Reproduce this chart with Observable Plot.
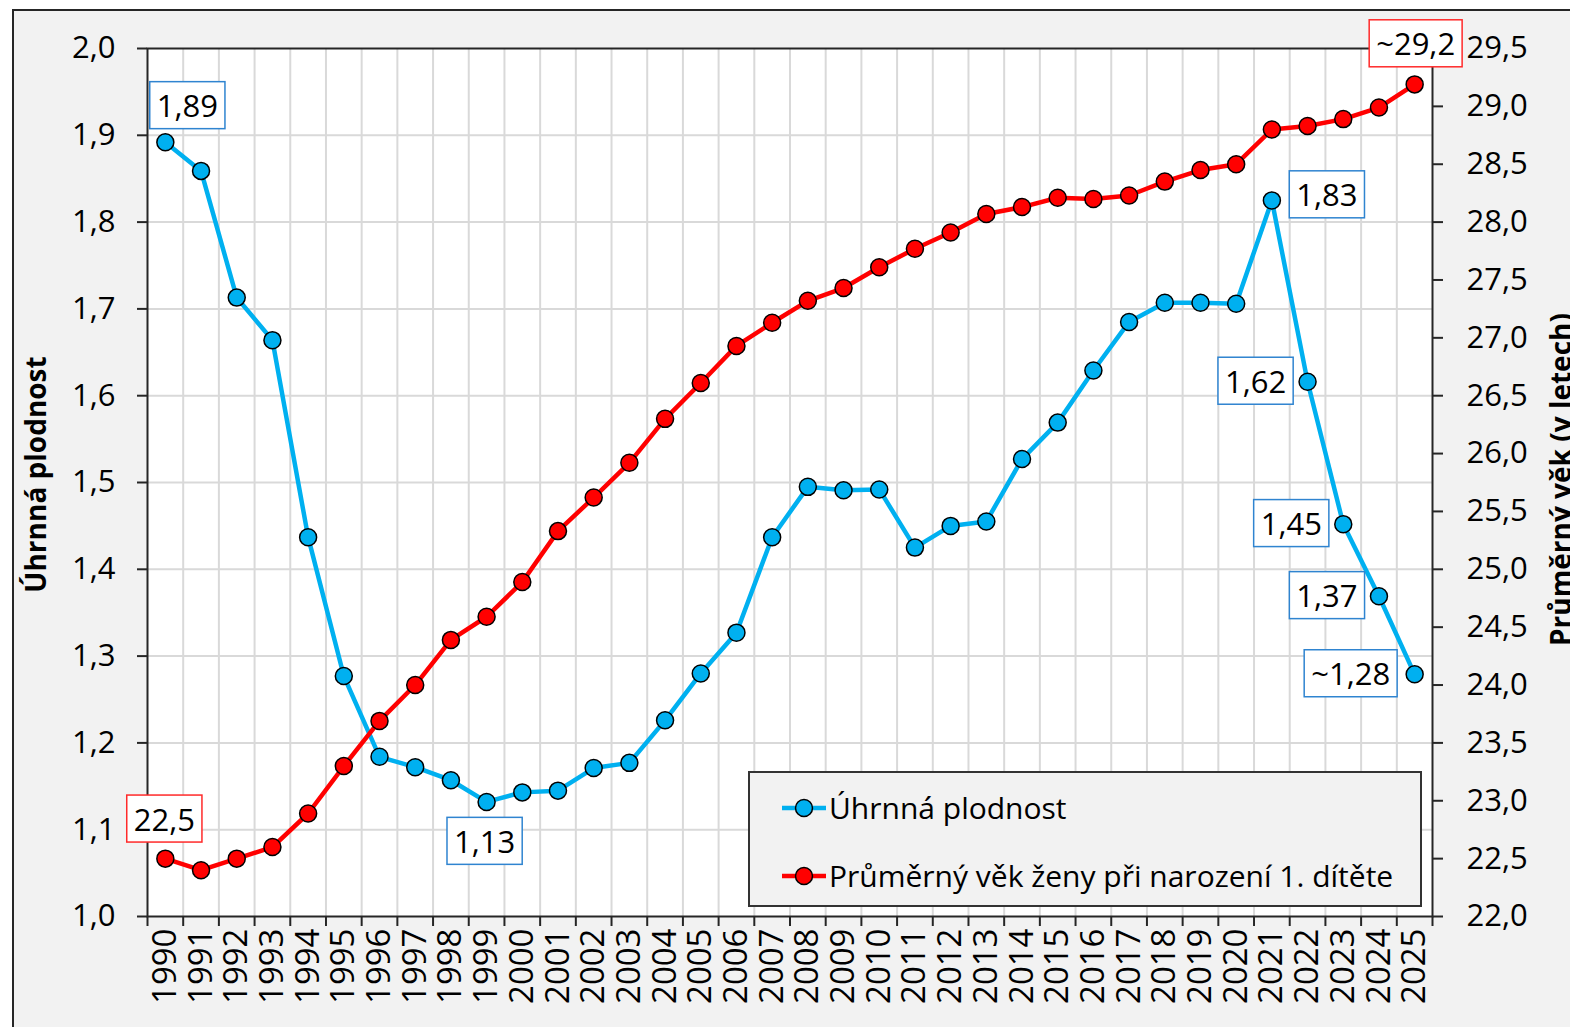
<!DOCTYPE html>
<html>
<head>
<meta charset="utf-8">
<script src="https://cdn.jsdelivr.net/npm/d3@7"></script>
<script src="https://cdn.jsdelivr.net/npm/@observablehq/plot@0.6"></script>
<style>
  html, body { margin: 0; padding: 0; background: #ffffff; }
  #wrap { position: relative; width: 1570px; height: 1027px; overflow: hidden; font-family: "Open Sans", sans-serif; }
  #bg { position: absolute; left: 12px; top: 9px; width: 1620px; height: 1100px; background: #f2f2f2; border: 2px solid #262626; }
  #chart { position: absolute; left: 0; top: 0; }
  #legend { position: absolute; left: 748px; top: 771px; width: 674px; height: 136px; box-sizing: border-box;
            background: #f2f2f2; border: 2px solid #333; }
  .item { position: absolute; left: 30px; display: flex; align-items: center; font-size: 30px; color: #000; white-space: nowrap; }
  .item svg { margin-right: 1px; }
</style>
</head>
<body>
<div id="wrap">
  <div id="bg"></div>
  <div id="chart"></div>
  <div id="legend"></div>
</div>
<script>
// ---- data ----
const years = [1990,1991,1992,1993,1994,1995,1996,1997,1998,1999,2000,2001,2002,2003,2004,2005,2006,2007,
               2008,2009,2010,2011,2012,2013,2014,2015,2016,2017,2018,2019,2020,2021,2022,2023,2024,2025];
const fertility = [1.892,1.859,1.713,1.664,1.437,1.277,1.184,1.172,1.157,1.132,1.143,1.145,1.171,1.177,1.226,1.280,1.327,1.437,
                   1.495,1.491,1.492,1.425,1.450,1.455,1.527,1.569,1.629,1.685,1.707,1.707,1.706,1.825,1.616,1.452,1.369,1.279];
const motherAge = [22.5,22.4,22.5,22.6,22.89,23.3,23.69,24.0,24.39,24.59,24.89,25.33,25.62,25.92,26.3,26.61,26.93,27.13,
                   27.32,27.43,27.61,27.77,27.91,28.07,28.13,28.21,28.2,28.23,28.35,28.45,28.5,28.8,28.83,28.89,28.99,29.19];
const leftTicks = [1.0,1.1,1.2,1.3,1.4,1.5,1.6,1.7,1.8,1.9,2.0];
const rightTicks = [22.0,22.5,23.0,23.5,24.0,24.5,25.0,25.5,26.0,26.5,27.0,27.5,28.0,28.5,29.0,29.5];
const fertilityLabels = [
  {year: 1990, text: "1,89"}, {year: 1999, text: "1,13"}, {year: 2021, text: "1,83"},
  {year: 2022, text: "1,62"}, {year: 2023, text: "1,45"}, {year: 2024, text: "1,37"}, {year: 2025, text: "~1,28"}
];
const ageLabels = [{year: 1990, text: "22,5"}, {year: 2025, text: "~29,2"}];
const seriesNames = ["Úhrnná plodnost", "Průměrný věk ženy při narození 1. dítěte"];
const leftTitle = "Úhrnná plodnost";
const rightTitle = "Průměrný věk (v letech)";

// ---- derived ----
const ageMin = rightTicks[0], ageMax = rightTicks[rightTicks.length - 1];
const yMin = leftTicks[0], yMax = leftTicks[leftTicks.length - 1];
const ageToY = a => yMin + (a - ageMin) / (ageMax - ageMin) * (yMax - yMin);
const yToAge = v => ageMin + (v - yMin) / (yMax - yMin) * (ageMax - ageMin);
const fmt1 = v => (Math.round(v * 10) / 10).toFixed(1).replace(".", ",");
const table = years.map((year, i) => ({year, fert: fertility[i], age: motherAge[i], ageY: ageToY(motherAge[i])}));
const boundaries = years.map(y => y - 0.5).concat([years[years.length - 1] + 0.5]);

const BLUE = "#00b0f0", RED = "#ff0000";
const AXIS = "#262626", GRID = "#d9d9d9";

// label offsets (pixels, relative to the point)
const fertOffsets = {1990: [22, -35], 1999: [-2, 41], 2021: [55, -4], 2022: [-52, 1], 2023: [-52, 1], 2024: [-52, 1], 2025: [-64, 1]};
const ageOffsets = {1990: [-1, -38], 2025: [1, -39]};

function tagged(cls) {
  return (index, scales, values, dims, context, next) => {
    const g = next(index, scales, values, dims, context);
    if (g) g.setAttribute("class", cls);
    return g;
  };
}

const labelMarks = [];
fertilityLabels.forEach(l => {
  const row = table.find(r => r.year === l.year);
  const [dx, dy] = fertOffsets[l.year];
  labelMarks.push(Plot.text([row], {x: "year", y: "fert", text: () => l.text, dx, dy, fontSize: 31,
    fill: "black", render: tagged("lbl-blue")}));
});
ageLabels.forEach(l => {
  const row = table.find(r => r.year === l.year);
  const [dx, dy] = ageOffsets[l.year];
  labelMarks.push(Plot.text([row], {x: "year", y: "ageY", text: () => l.text, dx, dy, fontSize: 31,
    fill: "black", render: tagged("lbl-red")}));
});

const chart = Plot.plot({
  width: 1570,
  height: 1027,
  marginLeft: 147,
  marginRight: 138,
  marginTop: 48,
  marginBottom: 111,
  style: {background: "transparent", fontFamily: "'Open Sans', sans-serif", color: "black"},
  x: {type: "linear", domain: [boundaries[0], boundaries[boundaries.length - 1]], label: null},
  y: {domain: [yMin, yMax], label: null},
  marks: [
    Plot.frame({fill: "white", stroke: null}),
    Plot.ruleY(leftTicks.slice(1, -1), {stroke: GRID, strokeWidth: 2}),
    Plot.ruleX(boundaries.slice(1, -1), {stroke: GRID, strokeWidth: 2}),
    Plot.frame({stroke: AXIS, strokeWidth: 2}),
    Plot.axisY(leftTicks, {anchor: "left", label: null, tickSize: 10, tickPadding: 22, strokeWidth: 2, stroke: AXIS, fill: "black",
      fontSize: 31, tickFormat: fmt1}),
    Plot.axisY(rightTicks.map(ageToY), {anchor: "right", label: null, tickSize: 10, tickPadding: 24, strokeWidth: 2, stroke: AXIS, fill: "black",
      fontSize: 31, tickFormat: v => fmt1(yToAge(v))}),
    Plot.axisX(boundaries, {anchor: "bottom", label: null, tickSize: 10, strokeWidth: 2, stroke: AXIS, tickFormat: () => ""}),
    Plot.axisX(years, {anchor: "bottom", label: null, tickSize: 0, tickPadding: 12, tickRotate: -90, fill: "black",
      fontSize: 33, tickFormat: d => String(d)}),
    Plot.text([leftTitle], {frameAnchor: "left", dx: -121, dy: -8, rotate: -90, fontSize: 28, fontWeight: "bold",
      textAnchor: "middle", lineAnchor: "top", fill: "black"}),
    Plot.text([rightTitle], {frameAnchor: "right", dx: 119, dy: -3, rotate: -90, fontSize: 28, fontWeight: "bold",
      textAnchor: "middle", lineAnchor: "top", fill: "black"}),
    Plot.line(table, {x: "year", y: "fert", stroke: BLUE, strokeWidth: 4.5}),
    Plot.dot(table, {x: "year", y: "fert", r: 8.5, fill: BLUE, stroke: "black", strokeWidth: 1.5}),
    Plot.line(table, {x: "year", y: "ageY", stroke: RED, strokeWidth: 4.5}),
    Plot.dot(table, {x: "year", y: "ageY", r: 8.5, fill: RED, stroke: "black", strokeWidth: 1.5}),
    ...labelMarks
  ]
});
document.getElementById("chart").appendChild(chart);

// boxes behind the data labels
function boxLabels(cls, color) {
  chart.querySelectorAll(`g.${cls} text`).forEach(t => {
    const b = t.getBBox();
    const padX = 7, h = 47;
    const r = document.createElementNS("http://www.w3.org/2000/svg", "rect");
    r.setAttribute("x", b.x - padX);
    r.setAttribute("y", b.y + b.height / 2 - h / 2);
    r.setAttribute("width", b.width + 2 * padX);
    r.setAttribute("height", h);
    r.setAttribute("fill", "white");
    r.setAttribute("stroke", color);
    r.setAttribute("stroke-width", 1.5);
    const tr = t.getAttribute("transform");
    if (tr) r.setAttribute("transform", tr);
    t.parentNode.insertBefore(r, t);
  });
}
boxLabels("lbl-blue", "#2f84d0");
boxLabels("lbl-red", "#ff2a2a");

// legend
const legend = document.getElementById("legend");
[[seriesNames[0], BLUE, 14], [seriesNames[1], RED, 82]].forEach(([name, color, top]) => {
  const div = document.createElement("div");
  div.className = "item";
  div.style.top = top + "px";
  div.innerHTML = `<svg width="48" height="24"><line x1="2" x2="46" y1="12" y2="12" stroke="${color}" stroke-width="4.5"/>` +
    `<circle cx="24" cy="12" r="8.5" fill="${color}" stroke="black" stroke-width="1.5"/></svg><span>${name}</span>`;
  legend.appendChild(div);
});
</script>
</body>
</html>
